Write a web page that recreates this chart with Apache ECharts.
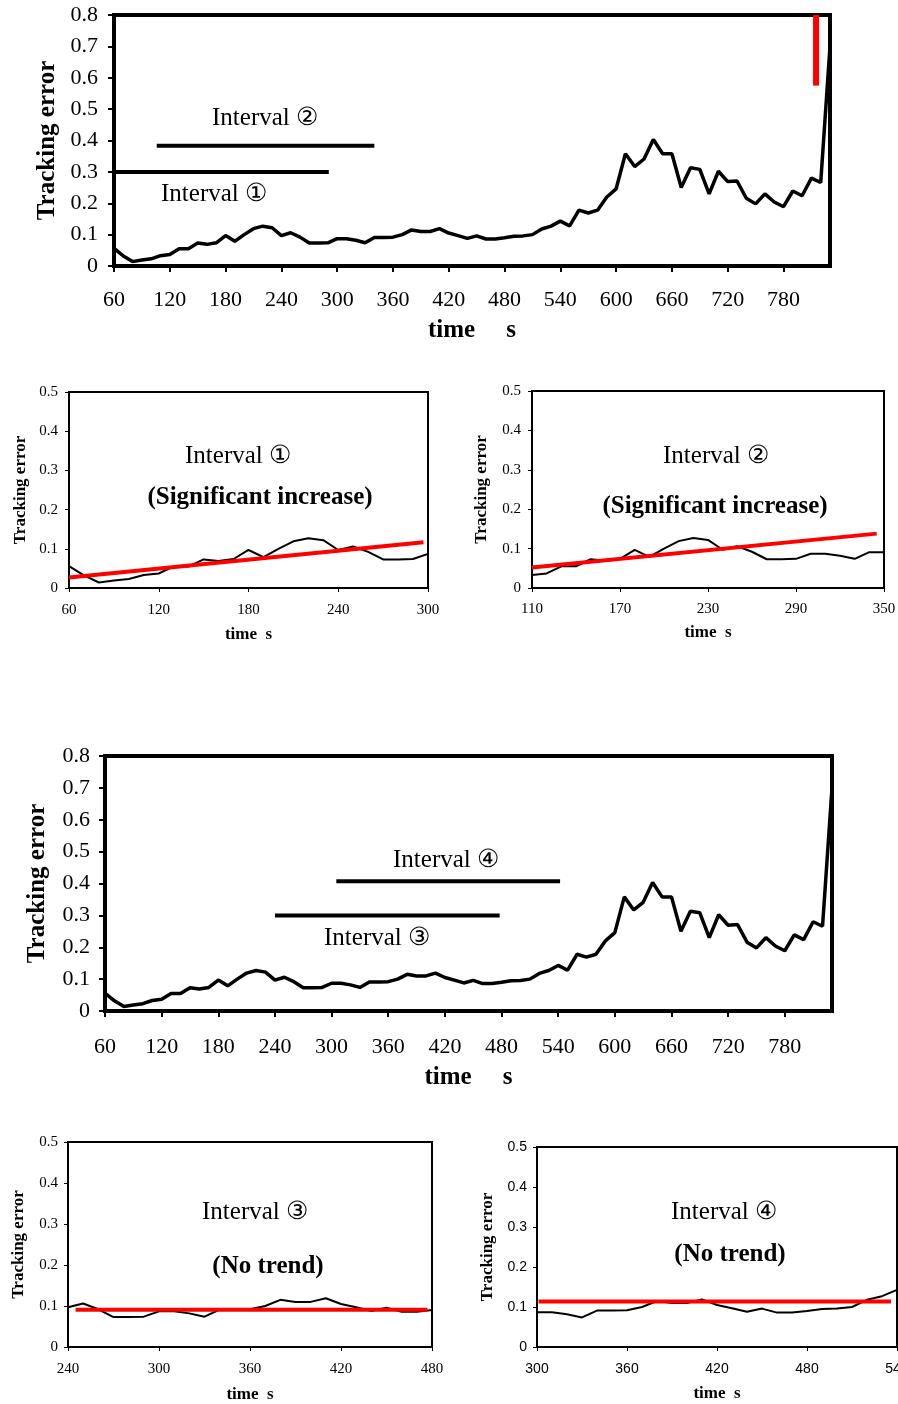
<!DOCTYPE html>
<html>
<head>
<meta charset="utf-8">
<script src="https://cdn.jsdelivr.net/npm/echarts@6/dist/echarts.min.js"></script>
<style>
  body { margin: 0; background: #fff; }
  #main { width: 898px; height: 1404px; }
</style>
</head>
<body>
<div id="main"></div>
<script>
// time (s) of each sample
var times = [60, 70, 80, 90, 100, 110, 120, 130, 140, 150, 160, 170, 180, 190, 200,
  210, 220, 230, 240, 250, 260, 270, 280, 290, 300, 310, 320, 330, 340, 350, 360,
  370, 380, 390, 400, 410, 420, 430, 440, 450, 460, 470, 480, 490, 500, 510, 520,
  530, 540, 550, 560, 570, 580, 590, 600, 610, 620, 630, 640, 650, 660, 670, 680,
  690, 700, 710, 720, 730, 740, 750, 760, 770, 780, 790, 800, 810, 820, 830];
// tracking error
var trackingError = [0.056, 0.032, 0.014, 0.019, 0.023, 0.033, 0.037, 0.055, 0.055, 0.073,
  0.069, 0.074, 0.097, 0.079, 0.100, 0.119, 0.127, 0.122, 0.097, 0.106, 0.092, 0.073,
  0.073, 0.074, 0.087, 0.087, 0.082, 0.074, 0.091, 0.091, 0.092, 0.100, 0.115, 0.110,
  0.110, 0.119, 0.105, 0.097, 0.088, 0.096, 0.086, 0.086, 0.090, 0.095, 0.096, 0.100,
  0.118, 0.127, 0.143, 0.128, 0.178, 0.169, 0.178, 0.220, 0.246, 0.358, 0.317, 0.341,
  0.403, 0.358, 0.358, 0.250, 0.313, 0.308, 0.230, 0.302, 0.269, 0.271, 0.216, 0.198,
  0.230, 0.204, 0.189, 0.239, 0.224, 0.280, 0.266, 0.700];

// interval bars on the big charts: [start, end, level]
var interval1 = [60, 291, 0.3];
var interval2 = [106, 340, 0.383];
var interval3 = [240, 478, 0.3];
var interval4 = [305, 542, 0.407];
// red marker on the first chart: [time, from, to]
var redMark = [815, 0.575, 0.8];

// fitted trend lines of the small charts: [t0, v0, t1, v1]
var trend1 = [60, 0.027, 297, 0.117];
var trend2 = [110, 0.052, 345, 0.138];
var trend3 = [245, 0.091, 477, 0.091];
var trend4 = [301, 0.114, 536, 0.114];

// x ranges of the six panels
var xRanges = [[60, 830], [60, 300], [110, 350], [60, 830], [240, 480], [300, 540]];

var serif = "'Liberation Serif', 'Times New Roman', serif";
var sans = "'Liberation Sans', Arial, sans-serif";

var points = times.map(function (t, i) { return [t, trackingError[i]]; });

// panel layout
var panels = [
  { left: 114, top: 15, width: 716, height: 251, big: true, font: serif,
    lm: 23, ym: 16, xg: 52, yg: 52 },
  { left: 69, top: 392, width: 359, height: 196, big: false, font: serif,
    lm: 15, ym: 11, xg: 38, yg: 40 },
  { left: 532, top: 391, width: 352, height: 197, big: false, font: serif,
    lm: 14, ym: 11, xg: 36, yg: 42 },
  { left: 105, top: 756, width: 727, height: 255, big: true, font: serif,
    lm: 25, ym: 15, xg: 54, yg: 55 },
  { left: 68, top: 1142, width: 364, height: 205, big: false, font: serif,
    lm: 15, ym: 10, xg: 39, yg: 41 },
  { left: 537, top: 1147, width: 360, height: 200, big: false, font: sans,
    lm: 15, ym: 10, xg: 38, yg: 41 }
];

var grids = [], xAxes = [], yAxes = [], series = [];

panels.forEach(function (p, i) {
  var bw = p.big ? 4 : 2;
  grids.push({
    left: p.left, top: p.top, width: p.width, height: p.height,
    outerBoundsMode: 'none',
    show: true, borderColor: '#000', borderWidth: bw
  });
  xAxes.push({
    gridIndex: i, type: 'value',
    min: xRanges[i][0], max: xRanges[i][1], interval: 60,
    name: p.big ? 'time     s' : 'time  s',
    nameLocation: 'middle', nameGap: p.xg,
    nameTextStyle: { fontFamily: serif, fontWeight: 'bold', fontSize: p.big ? 25 : 17, color: '#000' },
    axisLine: { show: true, lineStyle: { color: '#000', width: bw } },
    axisTick: { show: true, inside: false, length: p.big ? 6 : 4, lineStyle: { color: '#000', width: p.big ? 2 : 1 } },
    axisLabel: {
      margin: p.lm, fontFamily: p.font, fontSize: p.big ? 22 : (p.font === sans ? 14 : 15),
      color: '#000', showMaxLabel: !p.big
    },
    splitLine: { show: false }
  });
  yAxes.push({
    gridIndex: i, type: 'value',
    min: 0, max: p.big ? 0.8 : 0.5, interval: 0.1,
    name: 'Tracking error',
    nameLocation: 'middle', nameGap: p.yg, nameRotate: 90,
    nameTextStyle: { fontFamily: serif, fontWeight: 'bold', fontSize: p.big ? 25 : 17, color: '#000' },
    axisLine: { show: true, lineStyle: { color: '#000', width: bw } },
    axisTick: { show: true, inside: false, length: p.big ? 6 : 4, lineStyle: { color: '#000', width: p.big ? 2 : 1 } },
    axisLabel: {
      margin: p.ym, fontFamily: p.font, fontSize: p.big ? 22 : (p.font === sans ? 14 : 15), color: '#000'
    },
    splitLine: { show: false }
  });
  series.push({
    type: 'line', xAxisIndex: i, yAxisIndex: i, data: points,
    showSymbol: false, symbol: 'none', clip: true, animation: false,
    lineStyle: { color: '#000', width: p.big ? 3.5 : 2 }
  });
});

function seg(idx, data, color, width) {
  series.push({
    type: 'line', xAxisIndex: idx, yAxisIndex: idx, data: data,
    symbol: 'none', clip: true, animation: false, z: 5,
    lineStyle: { color: color, width: width, cap: 'butt' }
  });
}

seg(0, [[interval1[0], interval1[2]], [interval1[1], interval1[2]]], '#000', 4);
seg(0, [[interval2[0], interval2[2]], [interval2[1], interval2[2]]], '#000', 4);
seg(0, [[redMark[0], redMark[1]], [redMark[0], redMark[2]]], '#ff0000', 6);
seg(3, [[interval3[0], interval3[2]], [interval3[1], interval3[2]]], '#000', 4);
seg(3, [[interval4[0], interval4[2]], [interval4[1], interval4[2]]], '#000', 4);
seg(1, [[trend1[0], trend1[1]], [trend1[2], trend1[3]]], '#ff0000', 4);
seg(2, [[trend2[0], trend2[1]], [trend2[2], trend2[3]]], '#ff0000', 4);
seg(4, [[trend3[0], trend3[1]], [trend3[2], trend3[3]]], '#ff0000', 4);
seg(5, [[trend4[0], trend4[1]], [trend4[2], trend4[3]]], '#ff0000', 4);

function note(text, x, y, bold) {
  return {
    type: 'text', x: x, y: y, z: 10,
    style: {
      text: text, fill: '#000', align: 'center', verticalAlign: 'middle',
      font: (bold ? 'bold ' : '') + '25px ' + serif
    }
  };
}

var option = {
  animation: false,
  backgroundColor: '#fff',
  grid: grids,
  xAxis: xAxes,
  yAxis: yAxes,
  series: series,
  graphic: [
    note('Interval \u2460', 214, 194),
    note('Interval \u2461', 265, 118),
    note('Interval \u2460', 238, 456),
    note('(Significant increase)', 260, 498, true),
    note('Interval \u2461', 716, 456),
    note('(Significant increase)', 715, 507, true),
    note('Interval \u2462', 377, 938),
    note('Interval \u2463', 446, 860),
    note('Interval \u2462', 255, 1212),
    note('(No trend)', 268, 1267, true),
    note('Interval \u2463', 724, 1212),
    note('(No trend)', 730, 1255, true)
  ]
};

var myChart = echarts.init(document.getElementById('main'));
myChart.setOption(option);
</script>
</body>
</html>
